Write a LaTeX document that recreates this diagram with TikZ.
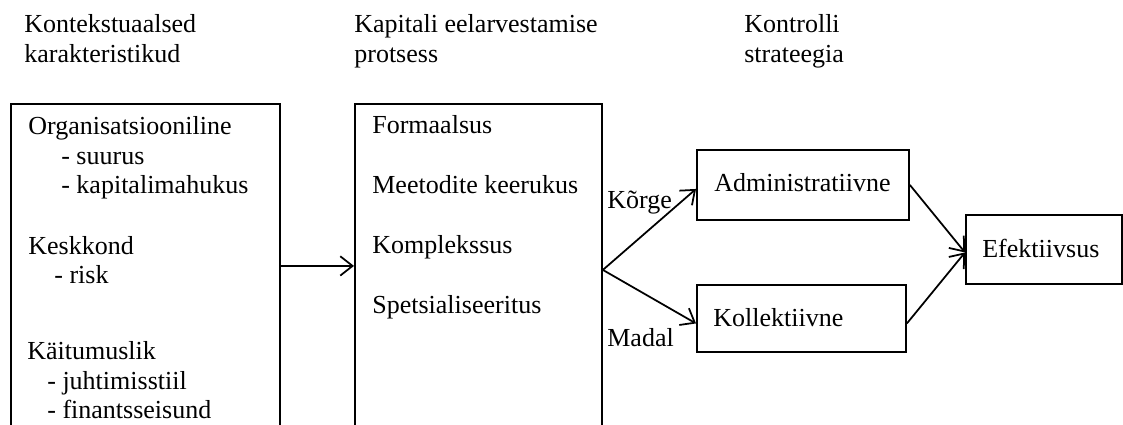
\documentclass[tikz,border=0pt]{standalone}
\usepackage{fontspec}
\setmainfont{Liberation Serif}
\usetikzlibrary{arrows.meta}

\begin{document}
\begin{tikzpicture}[x=0.02cm, y=-0.02cm,
  font=\fontsize{14.8}{17.6}\selectfont,
  txt/.style={anchor=base west, inner sep=0pt, align=left},
  box/.style={draw, line width=1.1pt, inner sep=0pt, anchor=north west},
  >={Straight Barb[length=7pt,width=11pt]}]
\useasboundingbox (0,0) rectangle (1123,425);
\clip (0,0) rectangle (1123,425);

% headings (base = last line)
\node[txt] (head1) at (24,63) {Kontekstuaalsed\\karakteristikud};
\node[txt] (head2) at (354,63) {Kapitali eelarvestamise\\protsess};
\node[txt] (head3) at (744,63) {Kontrolli\\strateegia};

% boxes
\node[box, minimum width=5.38cm, minimum height=6.48cm] (ctx) at (10,103) {};
\node[box, minimum width=4.94cm, minimum height=6.64cm] (proc) at (354,103) {};
\node[box, minimum width=4.24cm, minimum height=1.4cm] (adm) at (696,149) {};
\node[box, minimum width=4.18cm, minimum height=1.34cm] (koll) at (696,284) {};
\node[box, minimum width=3.12cm, minimum height=1.38cm] (efek) at (965,214) {};

% texts
\node[txt, font=\fontsize{14.8}{17}\selectfont] (org) at (28,194)
  {Organisatsiooniline\\\hspace*{0.66cm}- suurus\\\hspace*{0.66cm}- kapitalimahukus};
\node[txt, font=\fontsize{14.8}{17}\selectfont] (kesk) at (28,284)
  {Keskkond\\\hspace*{0.52cm}- risk};
\node[txt, font=\fontsize{14.8}{17}\selectfont] (kait) at (27,419)
  {K\"aitumuslik\\\hspace*{0.4cm}- juhtimisstiil\\\hspace*{0.4cm}- finantsseisund};

\foreach \t [count=\i] in {Formaalsus, Meetodite keerukus, Komplekssus, Spetsialiseeritus}
  \node[txt] (p\i) at (372,{134+(\i-1)*59.7}) {\t};

\node[txt] (admtxt) at (714,192) {Administratiivne};
\node[txt] (kolltxt) at (713,327) {Kollektiivne};
\node[txt] (efektxt) at (982,258) {Efektiivsus};

\node[txt] (korge) at (607,209) {K\~orge};
\node[txt] (madal) at (607,347) {Madal};

% arrows
\draw[->, line width=1pt] (ctx.east) -- (proc.west |- ctx.east);
\draw[->, line width=1pt] (proc.east) -- ([yshift=-0.08cm]adm.west);
\draw[->, line width=1pt] (proc.east) -- ([yshift=-0.1cm]koll.west);
\draw[->, line width=1pt] (adm.east) -- ([yshift=-0.06cm]efek.west);
\draw[->, line width=1pt] ([yshift=-0.1cm]koll.east) -- ([yshift=-0.06cm]efek.west);

\end{tikzpicture}
\end{document}
